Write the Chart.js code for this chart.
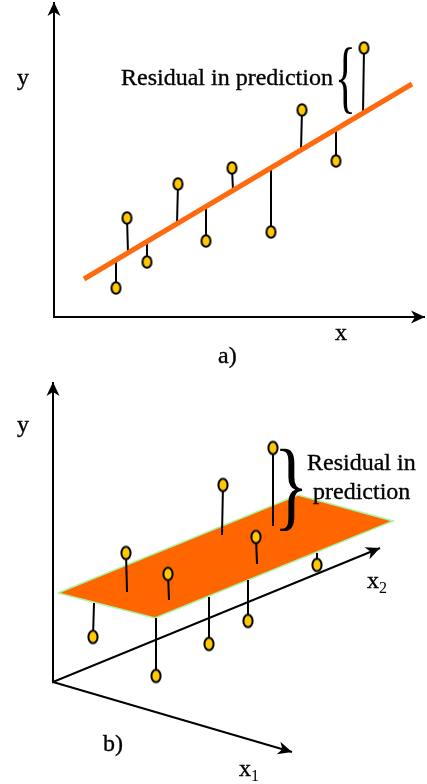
<!DOCTYPE html>
<html>
<head>
<meta charset="utf-8">
<script src="https://cdn.jsdelivr.net/npm/chart.js@4/dist/chart.umd.min.js"></script>
<style>
  html, body { margin: 0; padding: 0; background: #fff; }
  canvas { display: block; }
</style>
</head>
<body>
<canvas id="chartA" width="427" height="370"></canvas>
<canvas id="chartB" width="427" height="414"></canvas>
<script>
// ---- panel a) : simple regression, diagram units, origin at the axes corner ----
const aFitX = [30, 358];
const aFitY = [38, 233];
const aObsX = [62, 73, 93, 124, 152, 178, 217, 248, 282, 310];
const aObsY = [29, 99, 55, 133, 76, 149, 85, 207, 156, 269];
const aStemX = [62, 74, 93, 123, 152, 179, 217, 247, 282, 309];
const aAxisTip = { x: 371, y: 315 };

// ---- panel b) : multiple regression, projected diagram units ----
const bPlaneX = [5, 102, 340, 245, 5];
const bPlaneY = [89, 64, 161, 187, 89];
const bObsX = [40, 73, 103, 115, 156, 170, 195, 203, 220, 264];
const bObsY = [45, 129, 6, 108, 38, 197, 61, 145, 234, 117];
const bEndX = [41, 74, 103, 116, 156, 169, 195, 204, 220, 264];
const bEndY = [79, 90, 64, 82, 85, 147, 102, 118, 156, 129];
const bAxisY = { x: 0, y: 300 };
const bAxisX1 = { x: 239, y: -70 };
const bAxisX2 = { x: 327, y: 134 };

const SERIF = '"Liberation Serif", "Times New Roman", serif';

function marker(rx, ry) {
    const c = document.createElement("canvas");
    c.width = Math.ceil(rx * 2 + 4);
    c.height = Math.ceil(ry * 2 + 4);
    const g = c.getContext("2d");
    g.beginPath();
    g.ellipse(c.width / 2, c.height / 2, rx, ry, 0, 0, Math.PI * 2);
    g.fillStyle = "#FFC800";
    g.fill();
    g.lineWidth = 2;
    g.strokeStyle = "#000";
    g.stroke();
    return c;
}

function stems(xs, ys, ex, ey) {
    const out = [];
    xs.forEach((x, i) => {
        out.push({ x: x, y: ys[i] });
        out.push({ x: ex[i], y: ey[i] });
        out.push({ x: x, y: null });
    });
    return out;
}

function arrowHead(ctx, x0, y0, x1, y1) {
    const a = Math.atan2(y1 - y0, x1 - x0);
    const len = 14, half = 6.5, notch = 10;
    ctx.save();
    ctx.translate(x1, y1);
    ctx.rotate(a);
    ctx.beginPath();
    ctx.moveTo(0, 0);
    ctx.lineTo(-len, -half);
    ctx.lineTo(-notch, 0);
    ctx.lineTo(-len, half);
    ctx.closePath();
    ctx.fillStyle = "#000";
    ctx.fill();
    ctx.restore();
}

// draw a glyph stretched into a box given in data units
function glyphBox(chart, ch, x1, y1, x2, y2) {
    const ctx = chart.ctx, sx = chart.scales.x, sy = chart.scales.y;
    const px1 = sx.getPixelForValue(x1), px2 = sx.getPixelForValue(x2);
    const py1 = sy.getPixelForValue(y1), py2 = sy.getPixelForValue(y2);
    ctx.save();
    ctx.font = "100px " + SERIF;
    ctx.textAlign = "left";
    ctx.textBaseline = "alphabetic";
    const m = ctx.measureText(ch);
    const gw = m.actualBoundingBoxLeft + m.actualBoundingBoxRight;
    const gh = m.actualBoundingBoxAscent + m.actualBoundingBoxDescent;
    const kx = (px2 - px1) / gw, ky = (py2 - py1) / gh;
    ctx.translate(px1 + m.actualBoundingBoxLeft * kx, py1 + m.actualBoundingBoxAscent * ky);
    ctx.scale(kx, ky);
    ctx.fillStyle = "#000";
    ctx.fillText(ch, 0, 0);
    ctx.restore();
}

function label(chart, text, x, y, size, sub) {
    const ctx = chart.ctx;
    const px = chart.scales.x.getPixelForValue(x);
    const py = chart.scales.y.getPixelForValue(y);
    ctx.save();
    ctx.fillStyle = "#000";
    ctx.strokeStyle = "#000";
    ctx.lineWidth = 0.35;
    ctx.textAlign = "left";
    ctx.textBaseline = "alphabetic";
    ctx.font = size + "px " + SERIF;
    ctx.fillText(text, px, py);
    ctx.strokeText(text, px, py);
    if (sub) {
        const w = ctx.measureText(text).width;
        ctx.font = Math.round(size * 0.65) + "px " + SERIF;
        ctx.fillText(sub, px + w, py + 5);
    }
    ctx.restore();
}

function baseOptions(xmin, xmax, ymin, ymax) {
    return {
        responsive: false,
        devicePixelRatio: 1,
        animation: false,
        events: [],
        layout: { padding: 0, autoPadding: false },
        plugins: { legend: { display: false }, tooltip: { enabled: false } },
        scales: {
            x: { type: "linear", min: xmin, max: xmax, display: false },
            y: { type: "linear", min: ymin, max: ymax, display: false }
        }
    };
}

const axisStyle = { type: "scatter", showLine: true, borderColor: "#000", borderWidth: 2,
                    pointRadius: 0, clip: false, order: 5 };

// ---- chart a ----
const slope = (aFitY[1] - aFitY[0]) / (aFitX[1] - aFitX[0]);
const aPred = aStemX.map(x => aFitY[0] + (x - aFitX[0]) * slope);

new Chart(document.getElementById("chartA"), {
    type: "scatter",
    data: {
        datasets: [
            { data: aObsX.map((x, i) => ({ x: x, y: aObsY[i] })), pointStyle: marker(4.5, 5.8),
              pointRadius: 6, clip: false, order: 0 },
            { data: aFitX.map((x, i) => ({ x: x, y: aFitY[i] })), showLine: true,
              borderColor: "#FF6A10", borderWidth: 5, pointRadius: 0, clip: false, order: 1 },
            { data: stems(aObsX, aObsY, aStemX, aPred), showLine: true, spanGaps: false,
              borderColor: "#000", borderWidth: 2, pointRadius: 0, clip: false, order: 2 },
            Object.assign({ data: [{ x: 0, y: aAxisTip.y }, { x: 0, y: 0 }, { x: aAxisTip.x, y: 0 }] }, axisStyle)
        ]
    },
    options: baseOptions(-54, 373, -53, 317),
    plugins: [{
        id: "decorA",
        afterDraw(chart) {
            const sx = chart.scales.x, sy = chart.scales.y, ctx = chart.ctx;
            const ox = sx.getPixelForValue(0), oy = sy.getPixelForValue(0);
            arrowHead(ctx, ox, oy, ox, sy.getPixelForValue(aAxisTip.y));
            arrowHead(ctx, ox, oy, sx.getPixelForValue(aAxisTip.x), oy);
            label(chart, "y", -37, 232, 24);
            label(chart, "x", 281, -23, 24);
            label(chart, "a)", 164, -46, 24);
            label(chart, "Residual in prediction", 67, 232, 24);
            glyphBox(chart, "{", 285, 271, 298, 204);
        }
    }]
});

// ---- chart b ----
new Chart(document.getElementById("chartB"), {
    type: "scatter",
    data: {
        datasets: [
            { data: bObsX.map((x, i) => ({ x: x, y: bObsY[i] })), pointStyle: marker(4.6, 6.3),
              pointRadius: 6, clip: false, order: 0 },
            { data: stems(bObsX, bObsY, bEndX, bEndY), showLine: true, spanGaps: false,
              borderColor: "#000", borderWidth: 2, pointRadius: 0, clip: false, order: 1 },
            { data: bPlaneX.map((x, i) => ({ x: x, y: bPlaneY[i] })), showLine: true, fill: "shape",
              backgroundColor: "#FF6600", borderColor: "#A6F5A0", borderWidth: 1.5,
              pointRadius: 0, tension: 0, clip: false, order: 3 },
            Object.assign({ data: [{ x: bAxisY.x, y: bAxisY.y }, { x: 0, y: 0 }, { x: bAxisX2.x, y: bAxisX2.y }] }, axisStyle),
            Object.assign({ data: [{ x: 0, y: 0 }, { x: bAxisX1.x, y: bAxisX1.y }] }, axisStyle)
        ]
    },
    options: baseOptions(-53, 374, -102, 312),
    plugins: [{
        id: "decorB",
        afterDraw(chart) {
            const sx = chart.scales.x, sy = chart.scales.y, ctx = chart.ctx;
            const ox = sx.getPixelForValue(0), oy = sy.getPixelForValue(0);
            [bAxisY, bAxisX1, bAxisX2].forEach(t =>
                arrowHead(ctx, ox, oy, sx.getPixelForValue(t.x), sy.getPixelForValue(t.y)));
            label(chart, "y", -36, 250, 24);
            label(chart, "x", 314, 94, 24, "2");
            label(chart, "x", 186, -94, 24, "1");
            label(chart, "b)", 50, -69, 24);
            label(chart, "Residual in", 254, 212, 24);
            label(chart, "prediction", 260, 183, 24);
            glyphBox(chart, "}", 227, 233, 249, 151);
        }
    }]
});
</script>
</body>
</html>
